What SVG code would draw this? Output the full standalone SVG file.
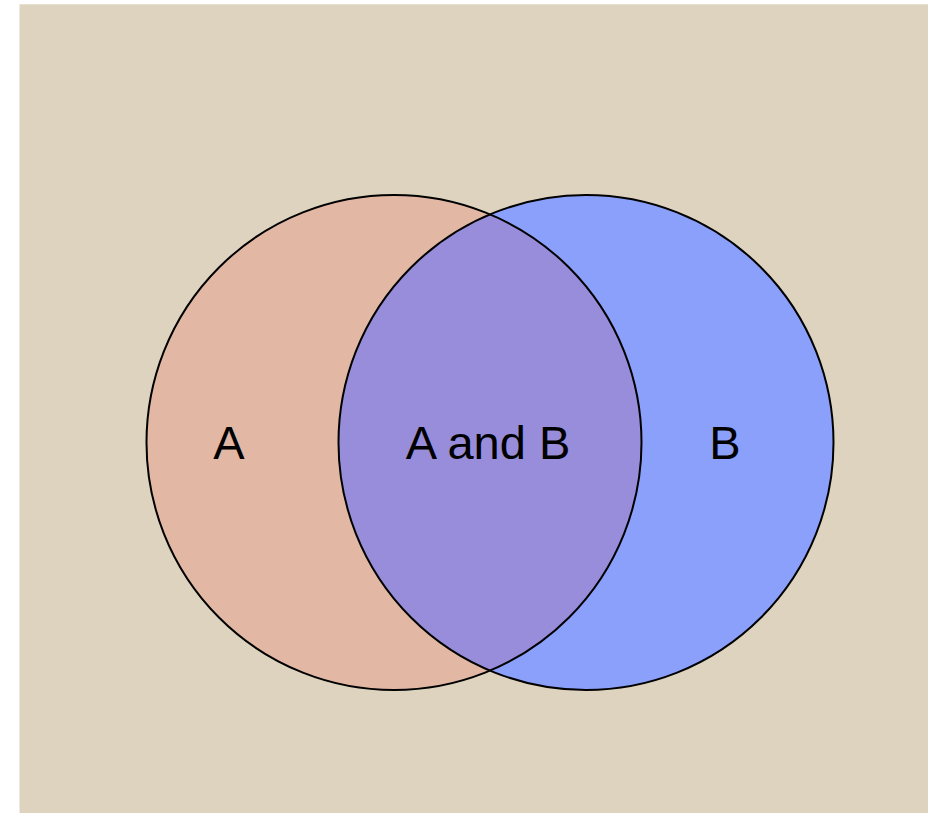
<svg xmlns="http://www.w3.org/2000/svg" width="928" height="813" viewBox="0 0 928 813">
  <style>
    .edge { fill: none; stroke: #000; stroke-width: 2; }
    .label { font-family: "Liberation Sans", Arial, sans-serif; font-size: 47px; fill: #000; text-anchor: middle; }
  </style>
  <defs>
    <clipPath id="clipA">
      <circle cx="394" cy="442.5" r="247.5"/>
    </clipPath>
  </defs>
  <rect x="0" y="0" width="928" height="813" fill="#ffffff"/>
  <rect x="19.5" y="4.3" width="908.5" height="808.7" fill="#DED3BE"/>
  <g id="setA">
    <circle cx="394" cy="442.5" r="247.5" fill="#E2B8A5"/>
  </g>
  <g id="setB">
    <circle cx="586" cy="442.5" r="247.5" fill="#8AA0FA"/>
  </g>
  <g id="setAB">
    <circle cx="586" cy="442.5" r="247.5" fill="#978DDB" clip-path="url(#clipA)"/>
  </g>
  <g id="outlines">
    <circle class="edge" cx="394" cy="442.5" r="247.5"/>
    <circle class="edge" cx="586" cy="442.5" r="247.5"/>
  </g>
  <text class="label" x="229" y="458.5">A</text>
  <text class="label" x="488" y="458.5">A and B</text>
  <text class="label" x="725" y="458.5">B</text>
</svg>
